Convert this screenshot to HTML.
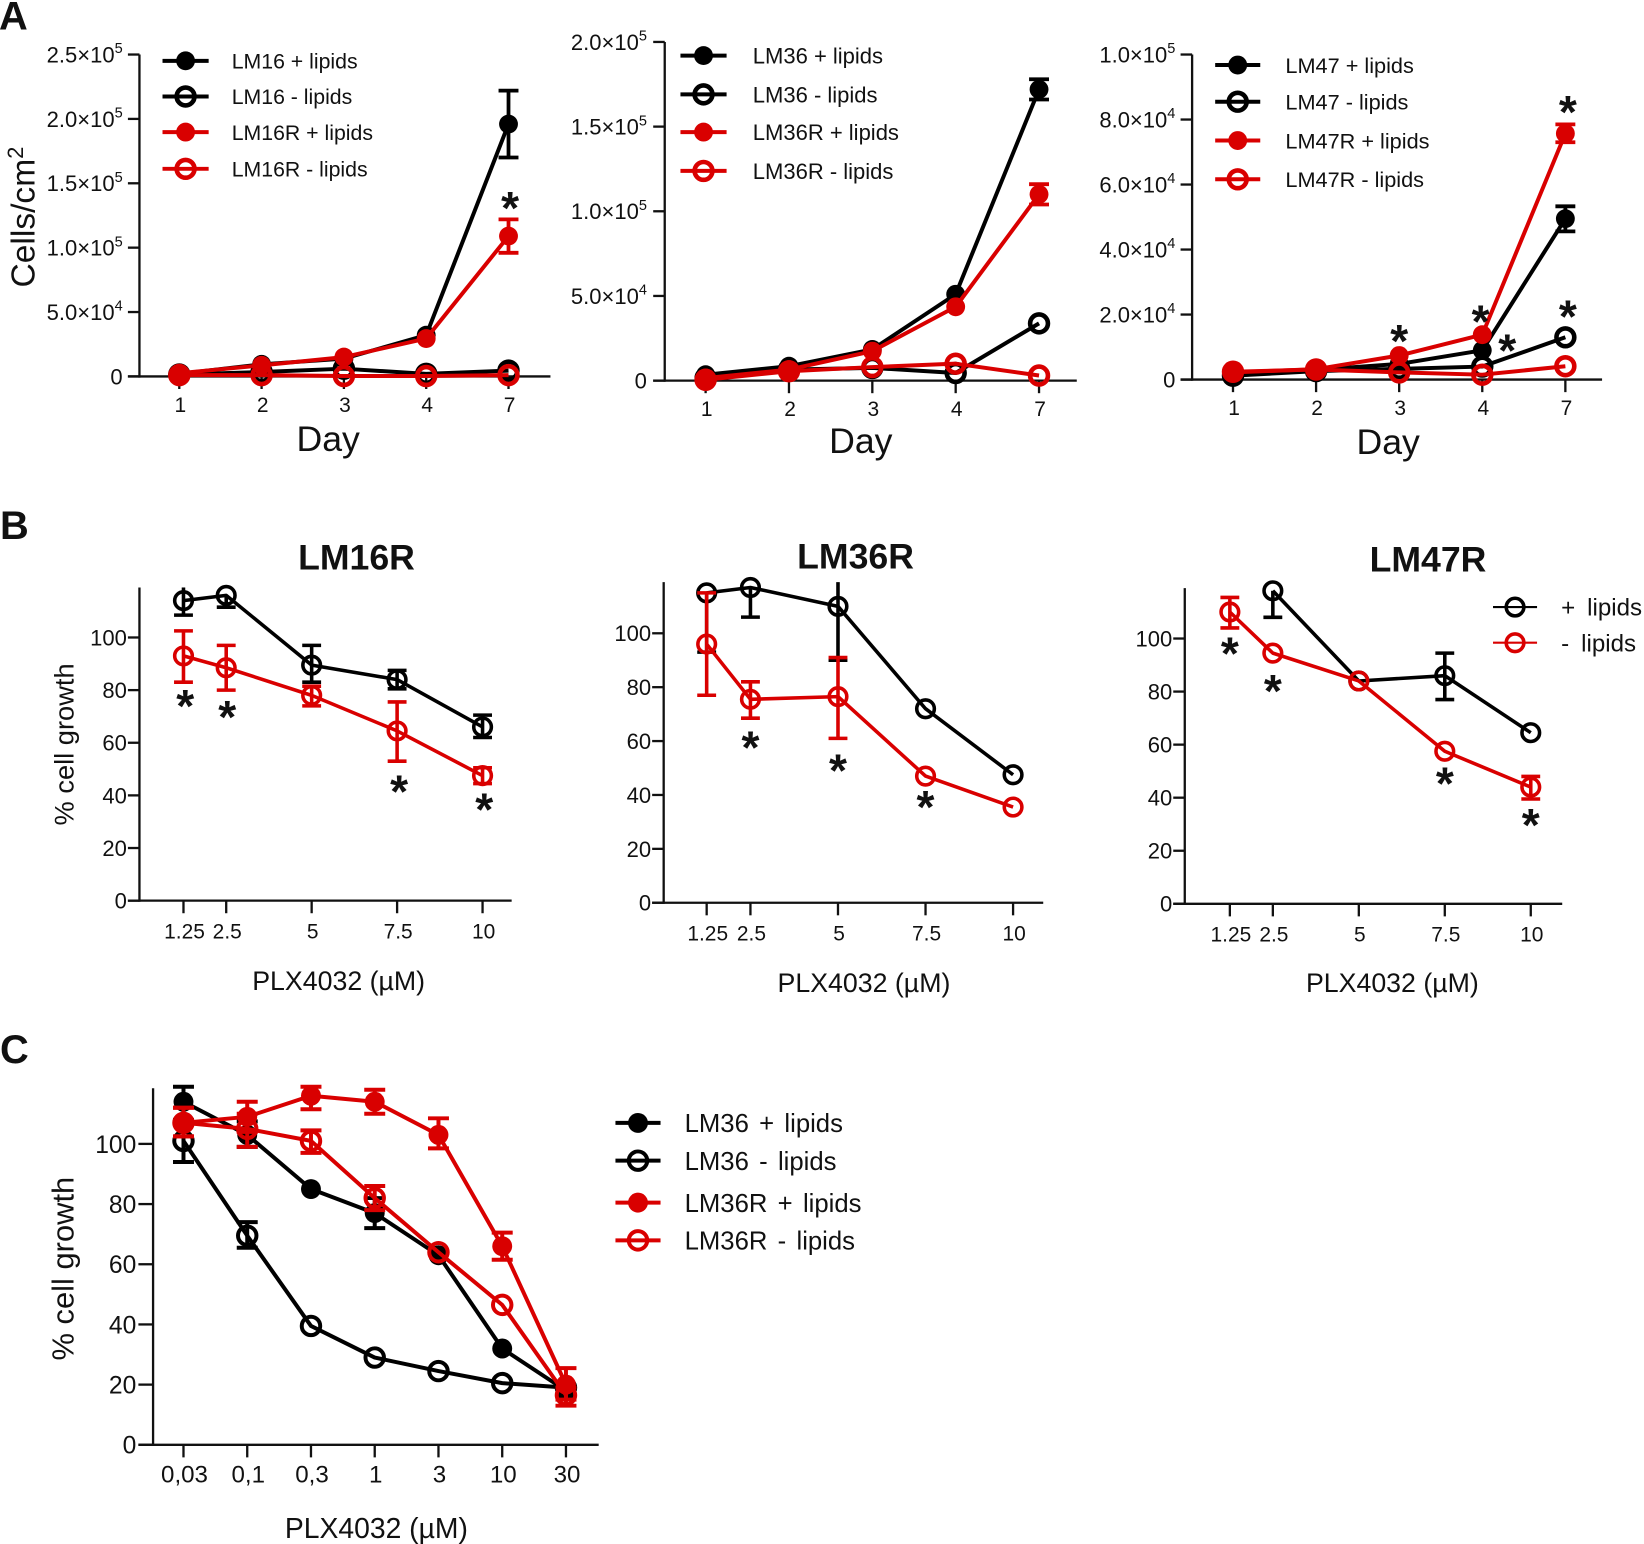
<!DOCTYPE html>
<html>
<head>
<meta charset="utf-8">
<title>Cell growth figure</title>
<style>
html,body{margin:0;padding:0;background:#fff;width:1644px;height:1544px;overflow:hidden}
svg{display:block}
text{font-family:"Liberation Sans",sans-serif;fill:#111}
</style>
</head>
<body>
<svg id="figure" xmlns="http://www.w3.org/2000/svg" width="1644" height="1544" viewBox="0 0 1568 1472.6">
  <text x="-1" y="28" font-size="38" font-weight="bold">A</text>
  <text x="0" y="514" font-size="38" font-weight="bold">B</text>
  <text x="0" y="1014" font-size="38" font-weight="bold">C</text>
  <text transform="translate(33,207) rotate(-90)" text-anchor="middle" font-size="32">Cells/cm<tspan font-size="21" dy="-11">2</tspan></text>
  <text x="313" y="430" text-anchor="middle" font-size="34">Day</text>
  <text x="821" y="432" text-anchor="middle" font-size="34">Day</text>
  <text x="1324" y="433" text-anchor="middle" font-size="34">Day</text>
  <text x="340" y="543" text-anchor="middle" font-size="34" font-weight="bold">LM16R</text>
  <text x="816" y="542" text-anchor="middle" font-size="34" font-weight="bold">LM36R</text>
  <text x="1362" y="545" text-anchor="middle" font-size="34" font-weight="bold">LM47R</text>
  <text transform="translate(70,710) rotate(-90)" text-anchor="middle" font-size="26">% cell growth</text>
  <text x="323" y="944" text-anchor="middle" font-size="25.5">PLX4032 (µM)</text>
  <text x="824" y="946" text-anchor="middle" font-size="25.5">PLX4032 (µM)</text>
  <text x="1328" y="946" text-anchor="middle" font-size="25.5">PLX4032 (µM)</text>
  <text transform="translate(70,1210) rotate(-90)" text-anchor="middle" font-size="29.5">% cell growth</text>
  <text x="359" y="1467" text-anchor="middle" font-size="27">PLX4032 (µM)</text>
</svg>
<script>
const BLACK = '#000000';
const RED = '#d90000';

/* Panel A1 */
const a1Days = ['1', '2', '3', '4', '7'];
const a1Ticks = [0, 50000, 100000, 150000, 200000, 250000];
const a1TickLabels = ['0', '5.0×10^4', '1.0×10^5', '1.5×10^5', '2.0×10^5', '2.5×10^5'];
const a1Lm16Plus = [2000, 9400, 13800, 32000, 196000];
const a1Lm16PlusHi = [null, null, null, null, 222000];
const a1Lm16PlusLo = [null, null, null, null, 170000];
const a1Lm16Minus = [1500, 3400, 6000, 2000, 4500];
const a1Lm16RPlus = [2500, 8600, 15000, 29400, 109000];
const a1Lm16RPlusHi = [null, null, null, null, 122000];
const a1Lm16RPlusLo = [null, null, null, null, 96000];
const a1Lm16RMinus = [1000, 1000, 300, 300, 1000];
const a1LegendLabels = ['LM16 + lipids', 'LM16 - lipids', 'LM16R + lipids', 'LM16R - lipids'];
const a1StarCategories = [4.02];
const a1StarValues = [135000];

/* Panel A2 */
const a2Days = ['1', '2', '3', '4', '7'];
const a2Ticks = [0, 50000, 100000, 150000, 200000];
const a2TickLabels = ['0', '5.0×10^4', '1.0×10^5', '1.5×10^5', '2.0×10^5'];
const a2Lm36Plus = [3500, 8500, 18400, 51000, 172000];
const a2Lm36PlusHi = [null, null, null, null, 178000];
const a2Lm36PlusLo = [null, null, null, null, 166000];
const a2Lm36Minus = [1500, 6500, 7500, 4500, 33800];
const a2Lm36RPlus = [1500, 6500, 17400, 43600, 110000];
const a2Lm36RPlusHi = [null, null, null, null, 116000];
const a2Lm36RPlusLo = [null, null, null, null, 104000];
const a2Lm36RMinus = [500, 5500, 8000, 10000, 3000];
const a2LegendLabels = ['LM36 + lipids', 'LM36 - lipids', 'LM36R + lipids', 'LM36R - lipids'];

/* Panel A3 */
const a3Days = ['1', '2', '3', '4', '7'];
const a3Ticks = [0, 20000, 40000, 60000, 80000, 100000];
const a3TickLabels = ['0', '2.0×10^4', '4.0×10^4', '6.0×10^4', '8.0×10^4', '1.0×10^5'];
const a3Lm47Plus = [1200, 3000, 4800, 9000, 49500];
const a3Lm47PlusHi = [null, null, null, null, 53300];
const a3Lm47PlusLo = [null, null, null, null, 45600];
const a3Lm47Minus = [1200, 2600, 3300, 4000, 13000];
const a3Lm47RPlus = [2200, 3200, 7400, 13800, 75700];
const a3Lm47RPlusHi = [null, null, null, null, 78500];
const a3Lm47RPlusLo = [null, null, null, null, 73000];
const a3Lm47RMinus = [2400, 3100, 2200, 1500, 4100];
const a3LegendLabels = ['LM47 + lipids', 'LM47 - lipids', 'LM47R + lipids', 'LM47R - lipids'];
const a3StarCategories = [2, 2.98, 3.3, 4.03, 4.03];
const a3StarValues = [13500, 19400, 10600, 21000, 83900];

/* Panels B */
const bDoses = [1.25, 2.5, 5, 7.5, 10];
const bDoseLabels = ['1.25', '2.5', '5', '7.5', '10'];
const bTicks = [0, 20, 40, 60, 80, 100];
const bTickLabels = ['0', '20', '40', '60', '80', '100'];

const b1Plus = [114, 116, 89.5, 84, 66];
const b1PlusHi = [120, null, 97, 87.5, 70.5];
const b1PlusLo = [108.5, 111.5, 83, 80.5, 62];
const b1Minus = [93, 88.5, 78, 64.5, 47.5];
const b1MinusHi = [102.5, 97, 81.5, 75.5, 50.5];
const b1MinusLo = [83, 80, 74, 53, 44.5];
const b1StarDoses = [1.3, 2.53, 7.56, 10.05];
const b1StarValues = [76, 71.7, 43.4, 36.6];

const b2Plus = [115, 117, 110, 72, 47.5];
const b2PlusHi = [115, 117, 120, null, null];
const b2PlusLo = [93, 106, 90, null, null];
const b2Minus = [96, 75.5, 76.5, 47, 35.5];
const b2MinusHi = [115, 82, 91, null, null];
const b2MinusLo = [77, 68.5, 61, null, null];
const b2StarDoses = [2.5, 5, 7.5];
const b2StarValues = [59.5, 51, 37.4];

const b3Plus = [null, 118, 84, 86, 64.5];
const b3PlusHi = [null, 118, null, 94.5, null];
const b3PlusLo = [null, 108, null, 77, null];
const b3Minus = [110, 94.5, 84, 57.5, 44];
const b3MinusHi = [115.5, null, null, null, 48];
const b3MinusLo = [104, null, null, null, 39.5];
const b3StarDoses = [1.25, 2.5, 7.5, 10];
const b3StarValues = [96.4, 82.2, 47.4, 31.6];
const b3LegendLabels = ['+ lipids', '- lipids'];

/* Panel C */
const cDoses = ['0,03', '0,1', '0,3', '1', '3', '10', '30'];
const cTicks = [0, 20, 40, 60, 80, 100];
const cTickLabels = ['0', '20', '40', '60', '80', '100'];
const cLm36Plus = [114, 103, 85, 77, 63, 32, 18];
const cLm36PlusHi = [119, 107.5, null, 82, null, null, null];
const cLm36PlusLo = [108, 99, null, 72, null, null, null];
const cLm36Minus = [101, 69.5, 39.5, 29, 24.5, 20.5, 19];
const cLm36MinusHi = [107, 74, null, null, null, null, null];
const cLm36MinusLo = [94, 65.5, null, null, null, null, null];
const cLm36RPlus = [107, 109, 116, 114, 103, 66, 20];
const cLm36RPlusHi = [112, 114, 119, 118, 108.5, 70.5, 25.5];
const cLm36RPlusLo = [102.5, 104, 111.5, 110, 98.5, 61.5, 15];
const cLm36RMinus = [107, 105, 101, 82, 64, 46.5, 16.5];
const cLm36RMinusHi = [112, 110, 104.5, 86, null, null, 19];
const cLm36RMinusLo = [102.5, 99, 97, 78, null, null, 13];
const cLegendLabels = ['LM36 + lipids', 'LM36 - lipids', 'LM36R + lipids', 'LM36R - lipids'];

const svg = document.getElementById('figure');
const NS = 'http://www.w3.org/2000/svg';

function mk(tag, attrs, parent) {
  const n = document.createElementNS(NS, tag);
  for (const k in attrs) n.setAttribute(k, attrs[k]);
  parent.appendChild(n);
  return n;
}

function drawMarker(g, cx, cy, s, st) {
  const filled = s.filled;
  const r = filled ? st.rFilled : st.rOpen;
  const c = mk('circle', {
    cx: cx, cy: cy, r: r,
    fill: filled ? s.color : 'none',
    stroke: filled ? 'none' : s.color,
    'stroke-width': filled ? 0 : st.markerStroke
  }, g);
  
  
}

function drawPanel(p) {
  const g = mk('g', {}, svg);
  
  

  const xScale = p.xScale;
  const yScale = v => p.y0 - v * p.yUnit;

  const axisStroke = p.axisStroke;
  const yAxis = mk('line', { x1: p.axisX, x2: p.axisX, y1: yScale(p.yTop), y2: p.y0 + axisStroke / 2, stroke: '#111', 'stroke-width': axisStroke }, g);
  
  
  const xAxis = mk('line', { x1: p.axisX - p.tickLen, x2: p.axisRight, y1: p.y0, y2: p.y0, stroke: '#111', 'stroke-width': axisStroke }, g);
  
  

  p.yTicks.forEach((v, i) => {
    const py = yScale(v);
    const t = mk('line', { x1: p.axisX - p.tickLen, x2: p.axisX, y1: py, y2: py, stroke: '#111', 'stroke-width': axisStroke }, g);
    
    
    const parts = p.yLabels[i].split('^');
    const lab = mk('text', { x: p.axisX - p.tickLen - p.yLabelGap, y: py + p.yFont * 0.36, 'text-anchor': 'end', 'font-size': p.yFont }, g);
    
    
    lab.textContent = parts[0];
    if (parts[1]) {
      const sup = mk('tspan', { 'font-size': p.yFont * 0.66, dy: -p.yFont * 0.42 }, lab);
      sup.textContent = parts[1];
    }
  });

  p.xValues.forEach((v, i) => {
    const px = xScale(v);
    const t = mk('line', { x1: px, x2: px, y1: p.y0, y2: p.y0 + p.xTickLen, stroke: '#111', 'stroke-width': axisStroke }, g);
    
    
    const lab = mk('text', { x: px + 1, y: p.y0 + p.xLabelDy, 'text-anchor': 'middle', 'font-size': p.xFont }, g);
    
    
    lab.textContent = p.xLabels[i];
  });

  p.series.forEach(s => {
    const sg = mk('g', {}, g);
    
    
    const pts = [];
    s.values.forEach((v, i) => { if (v !== null) pts.push(xScale(p.xValues[i]) + ',' + yScale(v)); });
    const line = mk('polyline', { points: pts.join(' '), fill: 'none', stroke: s.color, 'stroke-width': p.lineStroke, 'stroke-linejoin': 'round' }, sg);
    
    
    s.values.forEach((v, i) => {
      if (v === null) return;
      const px = xScale(p.xValues[i]);
      const hi = s.hi ? s.hi[i] : null;
      const lo = s.lo ? s.lo[i] : null;
      if (hi !== null || lo !== null) {
        const clipped = hi !== null && hi > p.yTop + 0.5;
        const top = clipped ? p.yTop : (hi !== null ? hi : v);
        const bottom = lo !== null ? lo : v;
        const bar = mk('line', { x1: px, x2: px, y1: yScale(top), y2: yScale(bottom), stroke: s.color, 'stroke-width': p.errStroke }, sg);
        
        
        [hi, lo].forEach(e => {
          if (e === null || e === v || e > p.yTop + 0.5) return;
          const cap = mk('line', { x1: px - p.capHalf, x2: px + p.capHalf, y1: yScale(e), y2: yScale(e), stroke: s.color, 'stroke-width': p.errStroke }, sg);
          
          
        });
      }
      drawMarker(sg, px, yScale(v), s, p);
    });
  });

  (p.stars || []).forEach(st => {
    const star = mk('text', { x: xScale(st[0]), y: yScale(st[1]) + p.starFont * 0.46, 'text-anchor': 'middle', 'font-size': p.starFont, 'font-weight': 'bold' }, g);
    
    
    star.textContent = '*';
  });

  if (p.legend) {
    const lg = p.legend;
    const lgGroup = mk('g', {}, g);
    
    
    lg.labels.forEach((label, i) => {
      const s = lg.styles[i];
      const y = lg.ys[i];
      const entry = mk('g', {}, lgGroup);
      
      
      mk('line', { x1: lg.x1, x2: lg.x2, y1: y, y2: y, stroke: s.color, 'stroke-width': lg.lineStroke }, entry);
      drawMarker(entry, (lg.x1 + lg.x2) / 2, y, s, p);
      const t = mk('text', { x: lg.textX, y: y + lg.font * 0.36, 'font-size': lg.font, 'word-spacing': lg.wordSpacing || 0 }, entry);
      
      
      t.textContent = label;
    });
  }
}

const indexOf = arr => arr.map((_, i) => i);
const styleFilledBlack = { color: BLACK, filled: true };
const styleOpenBlack = { color: BLACK, filled: false };
const styleFilledRed = { color: RED, filled: true };
const styleOpenRed = { color: RED, filled: false };
const fourStyles = [styleFilledBlack, styleOpenBlack, styleFilledRed, styleOpenRed];

const aStyle = { axisStroke: 2.2, tickLen: 11, xTickLen: 12, xLabelDy: 34, yFont: 21, xFont: 20, yLabelGap: 5, lineStroke: 3.8, errStroke: 3.6, capHalf: 9.5, rFilled: 9, rOpen: 8.5, markerStroke: 4.4, starFont: 44 };
const bStyle = { axisStroke: 2.2, tickLen: 11, xTickLen: 12, xLabelDy: 36, yFont: 21, xFont: 20, yLabelGap: 1, lineStroke: 3.4, errStroke: 3.4, capHalf: 9, rFilled: 8.5, rOpen: 8.4, markerStroke: 3.4, starFont: 44 };
const cStyle = { axisStroke: 2.2, tickLen: 14, xTickLen: 12, xLabelDy: 36, yFont: 23.5, xFont: 23, yLabelGap: 2, lineStroke: 3.8, errStroke: 3.8, capHalf: 10, rFilled: 9.5, rOpen: 8.8, markerStroke: 3.8, starFont: 44 };

drawPanel(Object.assign({}, aStyle, {
  id: 'a1', axisX: 133, axisRight: 525, y0: 359, yUnit: 307 / 250000, yTop: 250000,
  xScale: i => 171 + i * 78.5, xValues: indexOf(a1Days), xLabels: a1Days,
  yTicks: a1Ticks, yLabels: a1TickLabels,
  series: [
    { name: 'lm16-plus-lipids', color: BLACK, filled: true, values: a1Lm16Plus, hi: a1Lm16PlusHi, lo: a1Lm16PlusLo },
    { name: 'lm16-minus-lipids', color: BLACK, filled: false, values: a1Lm16Minus },
    { name: 'lm16r-plus-lipids', color: RED, filled: true, values: a1Lm16RPlus, hi: a1Lm16RPlusHi, lo: a1Lm16RPlusLo },
    { name: 'lm16r-minus-lipids', color: RED, filled: false, values: a1Lm16RMinus }
  ],
  stars: a1StarCategories.map((c, i) => [c, a1StarValues[i]]),
  legend: { labels: a1LegendLabels, styles: fourStyles, ys: [58, 92, 126, 161], x1: 155, x2: 199, textX: 221, font: 20.3, lineStroke: 3.8 }
}));

drawPanel(Object.assign({}, aStyle, {
  id: 'a2', axisX: 634, axisRight: 1027, y0: 363, yUnit: 323 / 200000, yTop: 200000, yLabelGap: 6,
  xScale: i => 673 + i * 79.5, xValues: indexOf(a2Days), xLabels: a2Days,
  yTicks: a2Ticks, yLabels: a2TickLabels,
  series: [
    { name: 'lm36-plus-lipids', color: BLACK, filled: true, values: a2Lm36Plus, hi: a2Lm36PlusHi, lo: a2Lm36PlusLo },
    { name: 'lm36-minus-lipids', color: BLACK, filled: false, values: a2Lm36Minus },
    { name: 'lm36r-plus-lipids', color: RED, filled: true, values: a2Lm36RPlus, hi: a2Lm36RPlusHi, lo: a2Lm36RPlusLo },
    { name: 'lm36r-minus-lipids', color: RED, filled: false, values: a2Lm36RMinus }
  ],
  legend: { labels: a2LegendLabels, styles: fourStyles, ys: [53, 90, 126, 163], x1: 649, x2: 693, textX: 718, font: 21, lineStroke: 3.8 }
}));

drawPanel(Object.assign({}, aStyle, {
  id: 'a3', axisX: 1137, axisRight: 1528, y0: 362, yUnit: 310 / 100000, yTop: 100000,
  xScale: i => 1176 + i * 79.25, xValues: indexOf(a3Days), xLabels: a3Days,
  yTicks: a3Ticks, yLabels: a3TickLabels,
  series: [
    { name: 'lm47-plus-lipids', color: BLACK, filled: true, values: a3Lm47Plus, hi: a3Lm47PlusHi, lo: a3Lm47PlusLo },
    { name: 'lm47-minus-lipids', color: BLACK, filled: false, values: a3Lm47Minus },
    { name: 'lm47r-plus-lipids', color: RED, filled: true, values: a3Lm47RPlus, hi: a3Lm47RPlusHi, lo: a3Lm47RPlusLo },
    { name: 'lm47r-minus-lipids', color: RED, filled: false, values: a3Lm47RMinus }
  ],
  stars: a3StarCategories.map((c, i) => [c, a3StarValues[i]]),
  legend: { labels: a3LegendLabels, styles: fourStyles, ys: [62, 97, 134, 171], x1: 1159, x2: 1202, textX: 1226, font: 20.7, lineStroke: 3.8 }
}));

drawPanel(Object.assign({}, bStyle, {
  id: 'b1', axisX: 133, axisRight: 488, y0: 859, yUnit: 2.51, yTop: 119,
  xScale: d => 175 + (d - 1.25) * 32.6, xValues: bDoses, xLabels: bDoseLabels,
  yTicks: bTicks, yLabels: bTickLabels,
  series: [
    { name: 'plus-lipids', color: BLACK, filled: false, values: b1Plus, hi: b1PlusHi, lo: b1PlusLo },
    { name: 'minus-lipids', color: RED, filled: false, values: b1Minus, hi: b1MinusHi, lo: b1MinusLo }
  ],
  stars: b1StarDoses.map((d, i) => [d, b1StarValues[i]])
}));

drawPanel(Object.assign({}, bStyle, {
  id: 'b2', axisX: 633, axisRight: 995, y0: 861, yUnit: 2.57, yTop: 119,
  xScale: d => 674 + (d - 1.25) * 33.4, xValues: bDoses, xLabels: bDoseLabels,
  yTicks: bTicks, yLabels: bTickLabels,
  series: [
    { name: 'plus-lipids', color: BLACK, filled: false, values: b2Plus, hi: b2PlusHi, lo: b2PlusLo },
    { name: 'minus-lipids', color: RED, filled: false, values: b2Minus, hi: b2MinusHi, lo: b2MinusLo }
  ],
  stars: b2StarDoses.map((d, i) => [d, b2StarValues[i]])
}));

drawPanel(Object.assign({}, bStyle, {
  id: 'b3', axisX: 1130, axisRight: 1490, y0: 862, yUnit: 2.53, yTop: 119,
  xScale: d => 1173 + (d - 1.25) * 32.8, xValues: bDoses, xLabels: bDoseLabels,
  yTicks: bTicks, yLabels: bTickLabels,
  series: [
    { name: 'plus-lipids', color: BLACK, filled: false, values: b3Plus, hi: b3PlusHi, lo: b3PlusLo },
    { name: 'minus-lipids', color: RED, filled: false, values: b3Minus, hi: b3MinusHi, lo: b3MinusLo }
  ],
  stars: b3StarDoses.map((d, i) => [d, b3StarValues[i]]),
  legend: { labels: b3LegendLabels, styles: [styleOpenBlack, styleOpenRed], ys: [579, 613], x1: 1424, x2: 1466, textX: 1489, font: 23, wordSpacing: 5, lineStroke: 2 }
}));

drawPanel(Object.assign({}, cStyle, {
  id: 'c', axisX: 146, axisRight: 571, y0: 1378, yUnit: 2.87, yTop: 118.5,
  xScale: i => 175 + i * 60.8, xValues: indexOf(cDoses), xLabels: cDoses,
  yTicks: cTicks, yLabels: cTickLabels,
  series: [
    { name: 'lm36-plus-lipids', color: BLACK, filled: true, values: cLm36Plus, hi: cLm36PlusHi, lo: cLm36PlusLo },
    { name: 'lm36-minus-lipids', color: BLACK, filled: false, values: cLm36Minus, hi: cLm36MinusHi, lo: cLm36MinusLo },
    { name: 'lm36r-plus-lipids', color: RED, filled: true, values: cLm36RPlus, hi: cLm36RPlusHi, lo: cLm36RPlusLo },
    { name: 'lm36r-minus-lipids', color: RED, filled: false, values: cLm36RMinus, hi: cLm36RMinusHi, lo: cLm36RMinusLo }
  ],
  legend: { labels: cLegendLabels, styles: fourStyles, ys: [1071, 1107, 1147, 1183], x1: 587, x2: 630, textX: 653, font: 24.5, wordSpacing: 3, lineStroke: 3.8 }
}));
</script>
</body>
</html>
